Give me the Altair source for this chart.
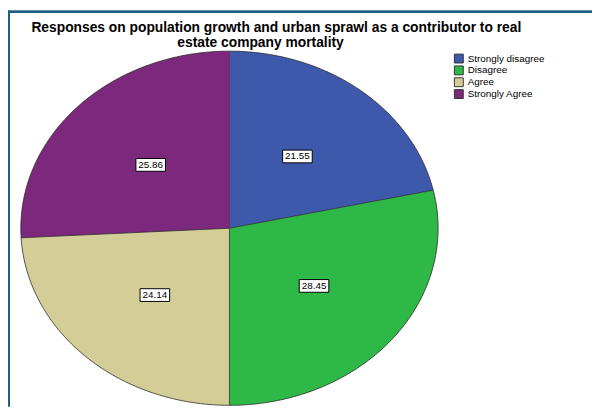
import altair as alt
import pandas as pd

categories = ["Strongly disagree", "Disagree", "Agree", "Strongly Agree"]
percents = [21.55, 28.45, 24.14, 25.86]
colors = ["#3e58ac", "#2eb848", "#d3ce97", "#7c287d"]
title_lines = [
    "Responses on population growth and urban sprawl as a contributor to real",
    "estate company mortality",
]

df = pd.DataFrame({"cat": categories, "value": percents, "idx": list(range(len(categories)))})

N = 120
W, H = 592, 401
cx, cy, rx, ry = 224.5, 220.5, 211.5, 179.5
FONT = "Liberation Sans"

xs = alt.Scale(domain=[-1, 1], range=[cx - rx, cx + rx])
ys = alt.Scale(domain=[-1, 1], range=[cy + ry, cy - ry])

base = (
    alt.Chart(df)
    .transform_joinaggregate(total="sum(value)")
    .transform_window(cum="sum(value)", sort=[alt.SortField("idx")])
    .transform_calculate(
        start="(datum.cum - datum.value) / datum.total",
        end="datum.cum / datum.total",
    )
)

slices = (
    base.transform_calculate(k=f"sequence(0, {N + 2})")
    .transform_flatten(["k"])
    .transform_calculate(
        a=f"2 * PI * (datum.start + (datum.end - datum.start) * (datum.k - 1) / {N})",
    )
    .transform_calculate(
        px="datum.k == 0 ? 0 : sin(datum.a)",
        py="datum.k == 0 ? 0 : cos(datum.a)",
    )
    .mark_line(stroke="#2a2a2a", strokeWidth=0.8, strokeJoin="round")
    .encode(
        x=alt.X("px:Q", scale=xs, axis=None),
        y=alt.Y("py:Q", scale=ys, axis=None),
        fill=alt.Fill(
            "cat:N",
            scale=alt.Scale(domain=categories, range=colors),
            legend=alt.Legend(
                title=None,
                orient="none",
                legendX=452,
                legendY=43.5,
                padding=0,
                symbolType="square",
                symbolSize=81,
                symbolStrokeColor="#333333",
                symbolStrokeWidth=1,
                labelFont=FONT,
                labelFontSize=10,
                labelColor="black",
                labelOffset=4,
                rowPadding=-4,
            ),
        ),
        detail="cat:N",
        order="k:Q",
    )
)

labels = base.transform_calculate(
    m="PI * (datum.start + datum.end)",
).transform_calculate(
    lx="0.52 * sin(datum.m)",
    ly="0.52 * cos(datum.m)",
)

boxes = labels.mark_point(
    shape="M-1,-0.43H1V0.43H-1Z",
    filled=True,
    fill="white",
    stroke="black",
    strokeWidth=1,
    size=900,
    opacity=1,
).encode(
    x=alt.X("lx:Q", scale=xs, axis=None),
    y=alt.Y("ly:Q", scale=ys, axis=None),
)

texts = labels.mark_text(font=FONT, fontSize=10, color="black", baseline="middle").encode(
    x=alt.X("lx:Q", scale=xs, axis=None),
    y=alt.Y("ly:Q", scale=ys, axis=None),
    text=alt.Text("value:Q", format=".2f"),
)

t1 = alt.Chart(pd.DataFrame({"t": [title_lines[0]]})).mark_text(
    font=FONT, fontSize=14, fontWeight="bold", color="black", align="center", baseline="alphabetic"
).encode(x=alt.value(272), y=alt.value(21.5), text="t:N")
t2 = alt.Chart(pd.DataFrame({"t": [title_lines[1]]})).mark_text(
    font=FONT, fontSize=14, fontWeight="bold", color="black", align="center", baseline="alphabetic"
).encode(x=alt.value(256), y=alt.value(37), text="t:N")

frame_left = alt.Chart(df).mark_rule(color="#1f5f80", strokeWidth=2).encode(
    x=alt.value(1), y=alt.value(0), y2=alt.value(H)
)
frame_top = alt.Chart(df).mark_rule(color="#1f5f80", strokeWidth=2).encode(
    x=alt.value(0), x2=alt.value(W), y=alt.value(1)
)

chart = (
    alt.layer(slices, boxes, texts, t1, t2, frame_left, frame_top)
    .properties(width=W, height=H, padding=0, autosize=alt.AutoSizeParams(type="none"), background="white")
    .configure_view(stroke=None)
)

chart.save("out.html", embed_options={"renderer": "svg", "actions": False})
